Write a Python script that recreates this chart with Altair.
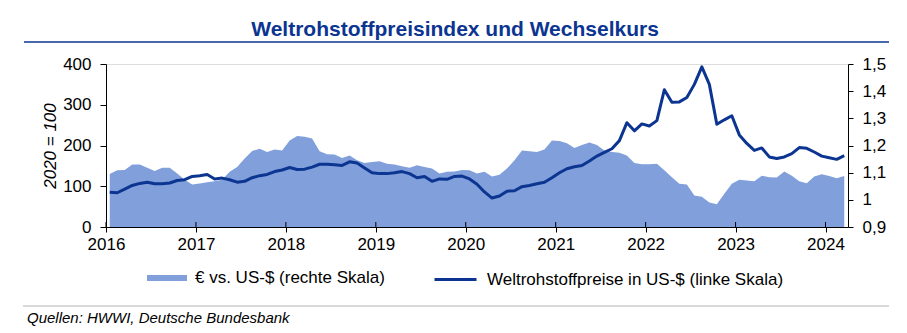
import altair as alt
import pandas as pd

# ---- data (monthly, Jan 2016 - Mar 2024) ----
commodity_index = [
    85, 84, 93, 102, 107, 110, 106, 106, 108, 114, 116, 124,      # 2016
    126, 129, 118, 120, 116, 110, 112, 121, 126, 129, 136, 140,   # 2017
    146, 141, 142, 147, 154, 154, 153, 151, 160, 157, 145, 133,   # 2018
    131, 131, 133, 136, 131, 121, 124, 112, 118, 117, 124, 125,   # 2019
    118, 105, 86, 71, 76, 88, 89, 99, 102, 106, 110, 121,         # 2020
    133, 143, 148, 151, 162, 174, 183, 192, 212, 256, 236, 253,   # 2021
    248, 261, 337, 306, 307, 318, 350, 393, 350, 252, 263, 273,   # 2022
    226, 205, 188, 194, 172, 168, 172, 180, 195, 193, 184, 174,   # 2023
    170, 166, 175,                                                # 2024
]
eur_usd = [
    1.095, 1.109, 1.110, 1.130, 1.130, 1.118, 1.106, 1.118, 1.118, 1.097, 1.074, 1.056,
    1.060, 1.065, 1.068, 1.074, 1.103, 1.121, 1.152, 1.180, 1.188, 1.176, 1.185, 1.182,
    1.218, 1.235, 1.232, 1.226, 1.179, 1.168, 1.167, 1.154, 1.163, 1.146, 1.136, 1.139,
    1.142, 1.133, 1.130, 1.124, 1.118, 1.127, 1.121, 1.115, 1.097, 1.103, 1.104, 1.110,
    1.109, 1.097, 1.103, 1.086, 1.092, 1.115, 1.146, 1.182, 1.179, 1.176, 1.185, 1.218,
    1.217, 1.208, 1.191, 1.202, 1.211, 1.202, 1.182, 1.176, 1.173, 1.163, 1.136, 1.131,
    1.131, 1.133, 1.109, 1.083, 1.059, 1.056, 1.016, 1.011, 0.990, 0.984, 1.022, 1.059,
    1.074, 1.071, 1.068, 1.089, 1.083, 1.082, 1.104, 1.089, 1.068, 1.061, 1.086, 1.094,
    1.088, 1.079, 1.088,
]
start_year = 2016
years = [2016, 2017, 2018, 2019, 2020, 2021, 2022, 2023, 2024]
left_ticks = [0, 100, 200, 300, 400]
right_ticks = [0.9, 1.0, 1.1, 1.2, 1.3, 1.4, 1.5]

title_text = "Weltrohstoffpreisindex und Wechselkurs"
area_label = "€ vs. US-$ (rechte Skala)"
line_label = "Weltrohstoffpreise in US-$ (linke Skala)"
left_title = "2020 = 100"
source_text = "Quellen: HWWI, Deutsche Bundesbank"

FONT = "Liberation Sans"
AREA_COLOR = "#809fdb"
LINE_COLOR = "#0b3591"
TITLE_COLOR = "#0b3591"

n = len(commodity_index)
df = pd.DataFrame({
    "t": [start_year + (k + 0.5) / 12 for k in range(n)],
    "index": commodity_index,
    "fx": eur_usd,
    "s_area": [area_label] * n,
    "s_line": [line_label] * n,
})

x_enc = alt.X(
    "t:Q",
    scale=alt.Scale(domain=[2016, 2024.25], nice=False, zero=False),
    axis=alt.Axis(
        values=years, format="d", title=None, grid=False,
        labelFontSize=17, labelFont=FONT, labelColor="black",
        labelFlush=False, labelOverlap=False, labelPadding=4,
        tickSize=5, tickColor="black", domainColor="black", zindex=1,
    ),
)

area = alt.Chart(df).mark_area(opacity=1).encode(
    x=x_enc,
    y=alt.Y(
        "fx:Q",
        scale=alt.Scale(domain=[0.9, 1.5], zero=False, nice=False),
        axis=alt.Axis(
            orient="right", values=right_ticks, title=None, grid=False,
            labelExpr="replace(format(datum.value, '.2~g'), '.', ',')",
            labelFontSize=17, labelFont=FONT, labelColor="black",
            labelPadding=9, tickSize=5, tickColor="black",
            domainColor="black", zindex=1,
        ),
    ),
    y2=alt.datum(0.9),
    fill=alt.Fill(
        "s_area:N",
        scale=alt.Scale(domain=[area_label], range=[AREA_COLOR]),
        legend=alt.Legend(
            title=None, orient="none", legendX=41, legendY=194, padding=0,
            symbolType="M-1,-0.15H1V0.15H-1Z", symbolSize=1600,
            symbolStrokeWidth=0, symbolOpacity=1, labelLimit=0,
            labelFontSize=17, labelFont=FONT, labelColor="black", labelOffset=8,
        ),
    ),
)

line = alt.Chart(df).mark_line(strokeWidth=3, strokeJoin="round").encode(
    x=x_enc,
    y=alt.Y(
        "index:Q",
        scale=alt.Scale(domain=[0, 400], nice=False),
        axis=alt.Axis(
            orient="left", values=left_ticks, grid=False,
            title=left_title, titleFont=FONT, titleFontSize=17,
            titleFontStyle="italic", titleFontWeight="normal", titleColor="black",
            titleAngle=270, titleX=-56, titleY=81.5, titleAlign="center",
            titleBaseline="middle",
            labelFontSize=17, labelFont=FONT, labelColor="black",
            labelPadding=9, tickSize=6, tickColor="black",
            domainColor="black", zindex=1,
        ),
    ),
    stroke=alt.Stroke(
        "s_line:N",
        scale=alt.Scale(domain=[line_label], range=[LINE_COLOR]),
        legend=alt.Legend(
            title=None, orient="none", legendX=327, legendY=193, padding=0,
            symbolType="stroke", symbolSize=1764, symbolStrokeWidth=3,
            labelLimit=0,
            labelFontSize=17, labelFont=FONT, labelColor="black", labelOffset=9,
        ),
    ),
)

inner_ticks = alt.Chart(pd.DataFrame({"t": years})).mark_rule(
    color="black", strokeWidth=1
).encode(
    x=x_enc,
    y=alt.value(158),
    y2=alt.value(163),
)

title_mark = alt.Chart(alt.Data(values=[{"txt": title_text}])).mark_text(
    align="center", baseline="alphabetic", font=FONT, fontSize=21,
    fontWeight="bold", color=TITLE_COLOR
).encode(x=alt.value(349), y=alt.value(-28), text="txt:N")

title_rule = alt.Chart(alt.Data(values=[{"a": 1}])).mark_rule(
    color=TITLE_COLOR, strokeWidth=1.5
).encode(x=alt.value(-82), x2=alt.value(783), y=alt.value(-22))

source_rule = alt.Chart(alt.Data(values=[{"a": 1}])).mark_rule(
    color="#b4b4b4", strokeWidth=1
).encode(x=alt.value(-83), x2=alt.value(783), y=alt.value(242))

source = alt.Chart(alt.Data(values=[{"src": source_text}])).mark_text(
    align="left", baseline="middle", font=FONT, fontSize=15,
    fontStyle="italic", color="black"
).encode(x=alt.value(-79), y=alt.value(254), text="src:N")

chart = alt.layer(
    area, line, inner_ticks, title_mark, title_rule, source_rule, source
).resolve_scale(
    y="independent", fill="independent", stroke="independent"
).properties(
    width=742, height=163,
    autosize=alt.AutoSizeParams(type="none"),
    padding={"left": 106, "top": 64, "right": 59, "bottom": 106},
    background="white",
).configure_view(stroke=None).configure(font=FONT)

chart.save("out.html", embed_options={"renderer": "svg", "actions": False})
